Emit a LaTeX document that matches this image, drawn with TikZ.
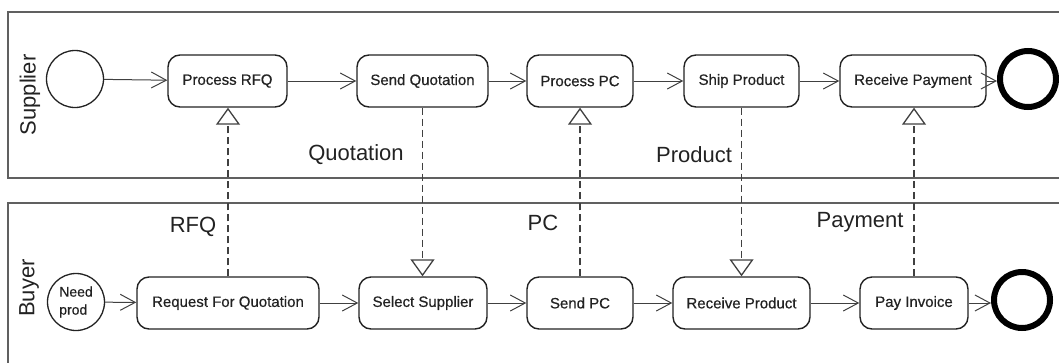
\documentclass[tikz,border=0pt]{standalone}
\usepackage{fontspec}
\setmainfont{Liberation Sans}
\newfontfamily\boxfont{Liberation Sans}[FakeBold=0.5]
\usetikzlibrary{arrows.meta}
\definecolor{ink}{HTML}{222222}
\definecolor{lane}{HTML}{606060}
\definecolor{wire}{HTML}{404040}
\begin{document}
\begin{tikzpicture}[x=1pt,y=-1pt,
  activity/.style={draw=ink,line width=1.4pt,rounded corners=12pt,minimum height=52pt,
    inner sep=2pt,text=ink,font=\boxfont\fontsize{15}{18}\selectfont},
  startev/.style={circle,draw=ink,line width=1.3pt,minimum size=57pt,inner sep=0pt,
    text=ink,font=\boxfont\fontsize{14}{18}\selectfont,align=left},
  endev/.style={circle,draw=black,line width=6pt,minimum size=56pt,inner sep=0pt},
  flow/.style={draw=wire,line width=1pt,-{Straight Barb[length=15pt,width=16pt,line width=1pt]}},
  msg/.style={draw=wire,line width=1.1pt,dash pattern=on 7pt off 4pt,
    -{Triangle[open,length=17pt,width=24pt,line width=1.3pt]}},
  lanelbl/.style={rotate=90,text=ink,font=\fontsize{22}{26}\selectfont},
  msglbl/.style={text=ink,font=\fontsize{22}{26}\selectfont,inner sep=0pt}]
\useasboundingbox (0,0) rectangle (1059,362);

% swimlanes
\draw[lane,line width=2pt] (1062,12) -- (8,12) -- (8,178) -- (1062,178);
\draw[lane,line width=2pt] (1062,203) -- (8,203) -- (8,365);
\node[lanelbl] (supplier) at (30,95) {Supplier};
\node[lanelbl] (buyer) at (29,288) {Buyer};

% supplier activities
\node[startev] (s0) at (75,79) {};
\node[activity,minimum width=119pt] (prfq) at (227.5,81) {Process RFQ};
\node[activity,minimum width=131pt] (sq) at (422.5,81) {Send Quotation};
\node[activity,minimum width=106pt] (ppc) at (580,81) {Process PC};
\node[activity,minimum width=115pt] (ship) at (741.5,81) {Ship Product};
\node[activity,minimum width=146pt] (rpay) at (913,81) {Receive Payment};
\node[endev] (s1) at (1028,79) {};

% buyer activities
\node[startev] (b0) at (76,302) {Need\\prod};
\node[activity,minimum width=182pt] (req) at (228,303) {Request For Quotation};
\node[activity,minimum width=128pt] (sel) at (423,303) {Select Supplier};
\node[activity,minimum width=106pt] (spc) at (580,303) {Send PC};
\node[activity,minimum width=137pt] (rprod) at (741.5,303) {Receive Product};
\node[activity,minimum width=108pt] (pinv) at (914,303) {Pay Invoice};
\node[endev] (b1) at (1022,300) {};

% control flow
\draw[flow] (s0) -- (prfq);
\draw[flow] (prfq) -- (sq);
\draw[flow] (sq) -- (ppc);
\draw[flow] (ppc) -- (ship);
\draw[flow] (ship) -- (rpay);
\draw[flow] (rpay.east) -- (s1.west |- rpay.east);
\draw[flow] (b0) -- (req);
\draw[flow] (req) -- (sel);
\draw[flow] (sel) -- (spc);
\draw[flow] (spc) -- (rprod);
\draw[flow] (rprod) -- (pinv);
\draw[flow] (pinv.east) -- (b1.west |- pinv.east);

% message flows
\draw[msg] (req.north) -- (prfq.south -| req.north);
\draw[msg] (sq.south) -- (sel.north -| sq.south);
\draw[msg] (spc.north) -- (ppc.south -| spc.north);
\draw[msg] (ship.south) -- (rprod.north -| ship.south);
\draw[msg] (pinv.north) -- (rpay.south -| pinv.north);

% message labels
\node[msglbl] (lq) at (356,155) {Quotation};
\node[msglbl] (lp) at (694,155) {Product};
\node[msglbl] (lrfq) at (193,227) {RFQ};
\node[msglbl] (lpc) at (543,223) {PC};
\node[msglbl] (lpay) at (860,222) {Payment};
\end{tikzpicture}
\end{document}
